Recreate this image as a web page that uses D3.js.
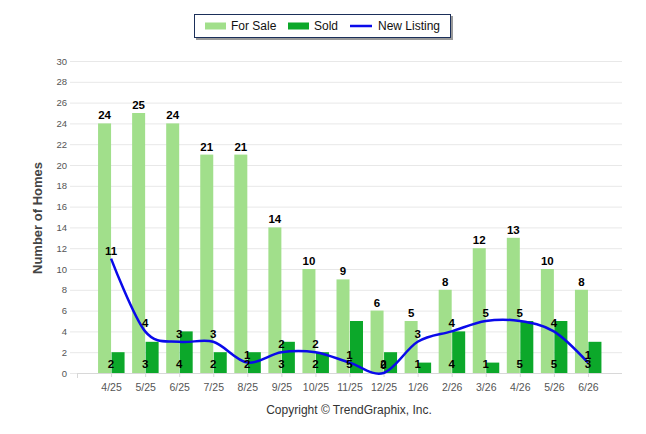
<!DOCTYPE html>
<html>
<head>
<meta charset="utf-8">
<script src="https://cdn.jsdelivr.net/npm/d3@7"></script>
<style>
  body { margin: 0; background: #fff; }
  text { font-family: Arial, "Liberation Sans", sans-serif; }
</style>
</head>
<body>
<div id="chart"></div>
<script>
// data
const months = ["4/25", "5/25", "6/25", "7/25", "8/25", "9/25", "10/25", "11/25", "12/25", "1/26", "2/26", "3/26", "4/26", "5/26", "6/26"];
const forSale = [24, 25, 24, 21, 21, 14, 10, 9, 6, 5, 8, 12, 13, 10, 8];
const sold = [2, 3, 4, 2, 2, 3, 2, 5, 2, 1, 4, 1, 5, 5, 3];
const newListing = [11, 4, 3, 3, 1, 2, 2, 1, 0, 3, 4, 5, 5, 4, 1];
const yTicks = d3.range(0, 31, 2);

const W = 646, H = 434;
const plot = { left: 77, right: 622, top: 61, bottom: 373 };

const svg = d3.select("#chart").append("svg").attr("width", W).attr("height", H);

const x = d3.scalePoint().domain(months).range([plot.left, plot.right]).padding(1);
const y = d3.scaleLinear().domain([0, 30]).range([plot.bottom, plot.top]);
const barW = 13;

// gridlines
svg.append("g")
  .selectAll("line")
  .data(yTicks)
  .join("line")
  .attr("x1", 70).attr("x2", plot.right)
  .attr("y1", d => y(d) + 0.5).attr("y2", d => y(d) + 0.5)
  .attr("stroke", "#e8e8e8");

// y axis labels
svg.append("g")
  .selectAll("text")
  .data(yTicks)
  .join("text")
  .attr("x", 67).attr("y", d => y(d) + 3.5)
  .attr("text-anchor", "end")
  .attr("font-size", 9.5)
  .attr("fill", "#555")
  .text(d => d);

// y title
svg.append("text")
  .attr("transform", "translate(42,218) rotate(-90)")
  .attr("text-anchor", "middle")
  .attr("font-size", 13)
  .attr("font-weight", "bold")
  .attr("fill", "#444")
  .text("Number of Homes");

// x axis
const xAxis = svg.append("g").attr("transform", `translate(0,${plot.bottom})`)
  .call(d3.axisBottom(x).tickSize(4).tickSizeOuter(0));
xAxis.select(".domain").attr("stroke", "#d8d8d8").attr("d", `M${plot.left},0.5H${plot.right}`);
xAxis.selectAll(".tick line").attr("stroke", "#d8d8d8");
xAxis.selectAll(".tick text").attr("font-size", 10.5).attr("fill", "#555").attr("font-family", "Arial, sans-serif").attr("dy", "1.0em");
xAxis.append("line").attr("x1", plot.left + 0.5).attr("x2", plot.left + 0.5).attr("y1", 0).attr("y2", 5).attr("stroke", "#d8d8d8");

// bars
svg.append("g")
  .selectAll("rect")
  .data(forSale)
  .join("rect")
  .attr("x", (d, i) => x(months[i]) - barW)
  .attr("y", d => y(d))
  .attr("width", barW)
  .attr("height", d => y(0) - y(d))
  .attr("fill", "#a1df8b");

svg.append("g")
  .selectAll("rect")
  .data(sold)
  .join("rect")
  .attr("x", (d, i) => x(months[i]) + 0.5)
  .attr("y", d => y(d))
  .attr("width", barW)
  .attr("height", d => y(0) - y(d))
  .attr("fill", "#0ca82a");

// new listing line
const line = d3.line()
  .x((d, i) => x(months[i]))
  .y(d => y(d))
  .curve(d3.curveCardinal.tension(0));
svg.append("path")
  .datum(newListing)
  .attr("d", line)
  .attr("fill", "none")
  .attr("stroke", "#0a0aea")
  .attr("stroke-width", 2.5);

// value labels
const lbl = (g, data, xf, yf) => g.selectAll("text")
  .data(data)
  .join("text")
  .attr("x", xf).attr("y", yf)
  .attr("text-anchor", "middle")
  .attr("font-size", 11.5)
  .attr("font-weight", "bold")
  .attr("fill", "#000")
  .text(d => d);

lbl(svg.append("g"), forSale, (d, i) => x(months[i]) - barW / 2, d => y(d) - 4);
lbl(svg.append("g"), sold, (d, i) => x(months[i]), () => y(0) - 5);
lbl(svg.append("g"), newListing, (d, i) => x(months[i]), d => y(d) - 4);

// legend
const lg = svg.append("g");
lg.append("rect").attr("x", 196).attr("y", 16).attr("width", 257).attr("height", 24).attr("fill", "#9a9a9a");
lg.append("rect").attr("x", 194.5).attr("y", 14.5).attr("width", 256).attr("height", 23).attr("fill", "#fff").attr("stroke", "#1b2f5a");
lg.append("rect").attr("x", 205).attr("y", 22.5).attr("width", 21).attr("height", 7).attr("fill", "#a1df8b");
lg.append("text").attr("x", 231).attr("y", 30).attr("font-size", 12).attr("fill", "#111").text("For Sale");
lg.append("rect").attr("x", 288).attr("y", 22.5).attr("width", 21).attr("height", 7).attr("fill", "#0ca82a");
lg.append("text").attr("x", 314).attr("y", 30).attr("font-size", 12).attr("fill", "#111").text("Sold");
lg.append("line").attr("x1", 350).attr("x2", 372).attr("y1", 26).attr("y2", 26).attr("stroke", "#0a0aea").attr("stroke-width", 2.5);
lg.append("text").attr("x", 378).attr("y", 30).attr("font-size", 12).attr("fill", "#111").text("New Listing");

// footer
svg.append("text")
  .attr("x", 349).attr("y", 414)
  .attr("text-anchor", "middle")
  .attr("font-size", 12)
  .attr("fill", "#333")
  .text("Copyright © TrendGraphix, Inc.");
</script>
</body>
</html>
